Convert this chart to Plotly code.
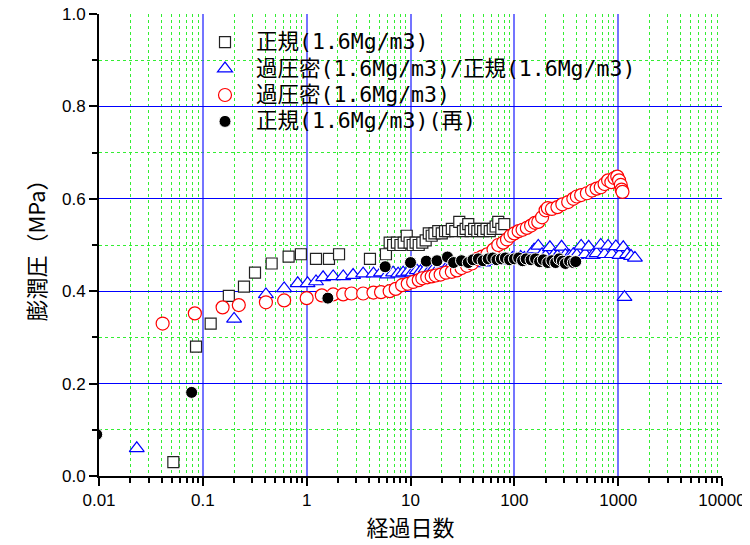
import plotly.graph_objects as go

# ---- data ----
sq_x = [0.052, 0.086, 0.119, 0.178, 0.249, 0.318, 0.46, 0.67, 0.88, 1.23, 1.64, 2.05, 4.07,
        5.8, 6.3, 6.8, 7.4, 8.0, 8.6, 9.2, 9.8, 10.5, 11.2, 12, 13, 14, 15, 16, 17, 18.5, 20,
        21.5, 23, 25, 27, 29.5, 32, 34, 36, 38, 41, 44, 47, 50, 54, 58, 62, 66, 70, 75, 80]
sq_y = [0.03, 0.28, 0.33, 0.39, 0.41, 0.44, 0.46, 0.475, 0.48, 0.47, 0.47, 0.48, 0.47,
        0.48, 0.505, 0.50, 0.505, 0.50, 0.505, 0.52, 0.505, 0.50, 0.505, 0.50, 0.505, 0.51, 0.525, 0.52, 0.525, 0.53, 0.525,
        0.53, 0.53, 0.535, 0.53, 0.55, 0.53, 0.535, 0.545, 0.53, 0.535, 0.53, 0.535, 0.53, 0.535, 0.53, 0.535, 0.54, 0.55, 0.535, 0.545]

tri_x = [0.0231, 0.2, 0.405, 0.607, 0.82, 1.02, 1.23, 1.44, 1.8, 2.25, 2.8, 3.5, 4.4, 5.2, 6.0, 6.8, 7.6, 8.5,
         9.5, 10.5, 11.5, 12.5, 14, 15.5, 17, 19, 21, 23, 25, 28, 31, 34, 38, 42, 46, 50, 55, 60, 66, 72, 80,
         88, 96, 105, 115, 125, 140, 155, 170, 185, 200, 220, 240, 260, 285, 310, 340, 370, 400, 440, 480,
         520, 570, 620, 680, 740, 800, 870, 950, 1030, 1120, 1150, 1220, 1330, 1450]
tri_y = [0.06, 0.34, 0.393, 0.406, 0.417, 0.417, 0.421, 0.43, 0.432, 0.432, 0.435, 0.438, 0.438, 0.44, 0.436, 0.44, 0.438, 0.44,
         0.442, 0.44, 0.445, 0.443, 0.448, 0.446, 0.45, 0.452, 0.46, 0.455, 0.458, 0.455, 0.46, 0.458, 0.462, 0.46, 0.465, 0.462, 0.466, 0.465, 0.468, 0.466, 0.47,
         0.468, 0.472, 0.47, 0.474, 0.472, 0.476, 0.49, 0.498, 0.48, 0.476, 0.495, 0.478, 0.476, 0.496, 0.478, 0.476, 0.48, 0.478, 0.498, 0.48,
         0.496, 0.478, 0.482, 0.50, 0.48, 0.498, 0.48, 0.497, 0.478, 0.495, 0.387, 0.48, 0.476, 0.472]

red_x = [0.0068, 0.041, 0.0838, 0.155, 0.222, 0.405, 0.607, 1.0, 1.4, 1.8, 2.25, 2.7, 3.5, 4.4,
         5.2, 6.3, 7.2, 8.3, 9.4, 10.6, 12, 13, 14.5, 16, 17.5, 19.5, 22, 25, 28, 31, 35, 39, 44, 49, 55,
         63, 70, 78, 85, 92, 100, 110, 120, 132, 145, 158, 170, 185, 200, 210, 230, 260, 290, 330, 370,
         400, 440, 500, 560, 620, 680, 740, 800, 860, 920, 980, 1020, 1060, 1080, 1100]
red_y = [0.257, 0.33, 0.352, 0.365, 0.37, 0.376, 0.38, 0.385, 0.391, 0.393, 0.393, 0.395, 0.395, 0.397,
         0.398, 0.40, 0.405, 0.413, 0.416, 0.42, 0.424, 0.428, 0.43, 0.432, 0.434, 0.436, 0.44, 0.442, 0.445, 0.45, 0.455, 0.46, 0.47, 0.475, 0.48,
         0.49, 0.50, 0.505, 0.512, 0.52, 0.525, 0.53, 0.533, 0.537, 0.542, 0.548, 0.55, 0.56, 0.575, 0.58, 0.578, 0.582, 0.588, 0.593, 0.60,
         0.605, 0.608, 0.612, 0.618, 0.622, 0.625, 0.632, 0.64, 0.636, 0.645, 0.648, 0.64, 0.63, 0.62, 0.615]

blk_x = [0.0095, 0.078, 1.6, 5.7, 10, 14.2, 18, 22.7, 26, 31, 36, 40, 45, 50, 56, 62, 68, 75, 82, 90,
         100, 110, 120, 130, 145, 160, 175, 190, 210, 230, 250, 270, 290, 310, 340, 370, 390]
blk_y = [0.09, 0.181, 0.385, 0.453, 0.462, 0.465, 0.466, 0.474, 0.462, 0.466, 0.462, 0.468, 0.47, 0.466, 0.47, 0.472, 0.468, 0.47, 0.472, 0.468,
         0.47, 0.472, 0.466, 0.47, 0.468, 0.47, 0.464, 0.468, 0.462, 0.466, 0.462, 0.47, 0.465, 0.46, 0.465, 0.462, 0.464]

names = ["正規(1.6Mg/m3)", "過圧密(1.6Mg/m3)/正規(1.6Mg/m3)", "過圧密(1.6Mg/m3)", "正規(1.6Mg/m3)(再)"]

x_tickvals = [0.01, 0.1, 1, 10, 100, 1000, 10000]
x_ticktext = ["0.01", "0.1", "1", "10", "100", "1000", "10000"]
x_minorvals = [m * d for d in [0.01, 0.1, 1, 10, 100, 1000] for m in [2, 3, 4, 5, 6, 7, 8, 9]]
y_tickvals = [0, 0.2, 0.4, 0.6, 0.8, 1.0]
y_ticktext = ["0.0", "0.2", "0.4", "0.6", "0.8", "1.0"]
y_minorvals = [0.1, 0.3, 0.5, 0.7, 0.9]


def leg(s):
    return '<span style="font-size:21.5px">' + s + '</span>'


fig = go.Figure()
fig.add_trace(go.Scatter(x=sq_x, y=sq_y, mode="markers", name=leg(names[0]),
                         marker=dict(symbol="square", size=11, color="white",
                                     line=dict(color="#222222", width=1.2))))
fig.add_trace(go.Scatter(x=tri_x, y=tri_y, mode="markers", name=leg(names[1]),
                         marker=dict(symbol="triangle-up", size=13, color="white",
                                     line=dict(color="#0000ff", width=1.2))))
fig.add_trace(go.Scatter(x=red_x, y=red_y, mode="markers", name=leg(names[2]),
                         marker=dict(symbol="circle", size=13, color="white",
                                     line=dict(color="#ff0000", width=1.2))))
fig.add_trace(go.Scatter(x=blk_x, y=blk_y, mode="markers", name=leg(names[3]),
                         marker=dict(symbol="circle", size=12, color="black",
                                     line=dict(color="white", width=1))))

tickfont = dict(family="Liberation Sans, Arial, sans-serif", size=17, color="black")
jp = "Noto Sans CJK JP"
minor_common = dict(showgrid=True, gridcolor="#33ee33", griddash="dot", gridwidth=1,
                    ticks="outside", ticklen=5, tickcolor="black", tickwidth=1.5)

# the page body adds an 8px offset, so the figure is 8px smaller and shifted
W, H = 742, 537
ML, MT, MR, MB = 91, 6, 28, 69
PW, PH = W - ML - MR, H - MT - MB

fig.update_layout(
    width=W, height=H,
    margin=dict(l=ML, r=MR, t=MT, b=MB, autoexpand=False),
    paper_bgcolor="white", plot_bgcolor="white",
    showlegend=True,
    legend=dict(x=(186 - ML) / PW, y=1 - (16 - MT) / PH, xanchor="left", yanchor="top",
                bgcolor="rgba(0,0,0,0)", borderwidth=0,
                font=dict(family="DejaVu Sans Mono, " + jp, size=18, color="black"),
                tracegroupgap=0, itemwidth=52),
    xaxis=dict(type="log", range=[-2, 4], tickvals=x_tickvals, ticktext=x_ticktext,
               automargin=False, ticklabeloverflow="allow",
               showline=True, linecolor="black", linewidth=2,
               ticks="outside", ticklen=8, tickwidth=1.5, tickcolor="black",
               showgrid=True, gridcolor="rgba(70,70,255,0.75)", gridwidth=1.5,
               minor=dict(tickvals=x_minorvals, **minor_common),
               tickfont=tickfont, zeroline=False,
               title=dict(text="経過日数", font=dict(family=jp, size=22, color="black"), standoff=6)),
    yaxis=dict(range=[0, 1.0], tickvals=y_tickvals, ticktext=y_ticktext,
               automargin=False, ticklabeloverflow="allow",
               showline=True, linecolor="black", linewidth=2,
               ticks="outside", ticklen=8, tickwidth=1.5, tickcolor="black",
               showgrid=True, gridcolor="#0000ff", gridwidth=1,
               minor=dict(tickvals=y_minorvals, **minor_common),
               tickfont=tickfont, zeroline=False,
               title=dict(text="膨潤圧（MPa）", font=dict(family=jp, size=22, color="black"), standoff=10)),
)

fig.write_html("out.html")
